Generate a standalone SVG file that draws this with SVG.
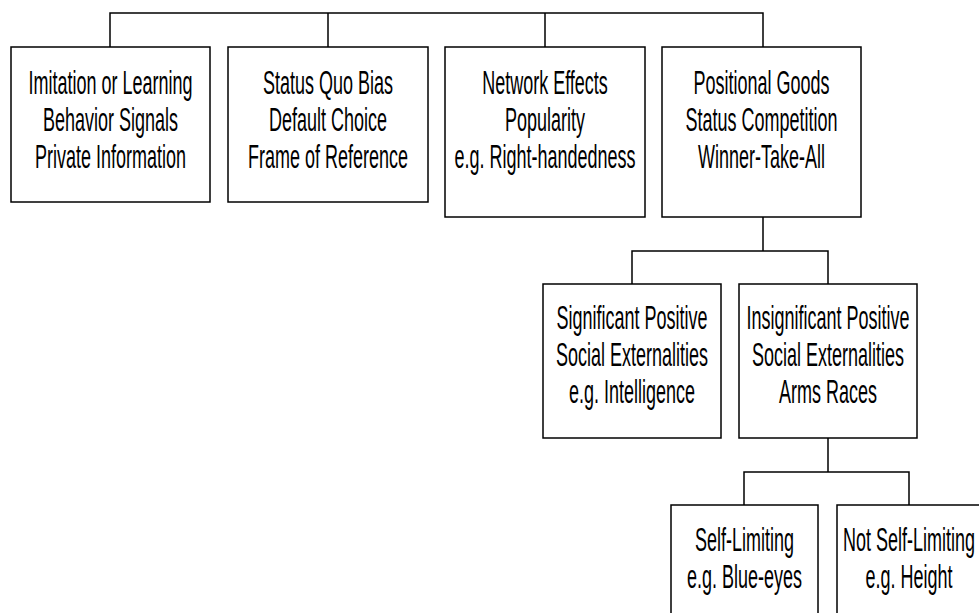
<svg xmlns="http://www.w3.org/2000/svg" width="979" height="613" viewBox="0 0 979 613">
<style>
.box{fill:#fff;stroke:#000;stroke-width:1.5}
.conn{fill:none;stroke:#000;stroke-width:1.5}
.t{font-family:"Liberation Sans",Arial,sans-serif;font-size:33px;fill:#000;text-anchor:middle}
</style>
<rect width="979" height="613" fill="#fff"/>
<g id="connectors">
<path class="conn" d="M110,47V13H763V47M328,13V47M545,13V47"/>
<path class="conn" d="M763,217V251M632,284V251H828V284"/>
<path class="conn" d="M828,438V472M744,505V472H909V505"/>
</g>
<g id="n1">
<rect class="box" x="11" y="47" width="199" height="155"/>
<g transform="translate(110.5,0) scale(0.545,1)"><text class="t" x="0" y="94">Imitation or Learning</text><text class="t" x="0" y="131">Behavior Signals</text><text class="t" x="0" y="168">Private Information</text></g>
</g>
<g id="n2">
<rect class="box" x="228" y="47" width="200" height="155"/>
<g transform="translate(328,0) scale(0.545,1)"><text class="t" x="0" y="94">Status Quo Bias</text><text class="t" x="0" y="131">Default Choice</text><text class="t" x="0" y="168">Frame of Reference</text></g>
</g>
<g id="n3">
<rect class="box" x="445" y="47" width="200" height="170"/>
<g transform="translate(545,0) scale(0.545,1)"><text class="t" x="0" y="94">Network Effects</text><text class="t" x="0" y="131">Popularity</text><text class="t" x="0" y="168">e.g. Right-handedness</text></g>
</g>
<g id="n4">
<rect class="box" x="662" y="47" width="199" height="170"/>
<g transform="translate(761.5,0) scale(0.545,1)"><text class="t" x="0" y="94">Positional Goods</text><text class="t" x="0" y="131">Status Competition</text><text class="t" x="0" y="168">Winner-Take-All</text></g>
</g>
<g id="n5">
<rect class="box" x="543" y="284" width="178" height="154"/>
<g transform="translate(632,0) scale(0.545,1)"><text class="t" x="0" y="329">Significant Positive</text><text class="t" x="0" y="366">Social Externalities</text><text class="t" x="0" y="403">e.g. Intelligence</text></g>
</g>
<g id="n6">
<rect class="box" x="739" y="284" width="178" height="154"/>
<g transform="translate(828,0) scale(0.545,1)"><text class="t" x="0" y="329">Insignificant Positive</text><text class="t" x="0" y="366">Social Externalities</text><text class="t" x="0" y="403">Arms Races</text></g>
</g>
<g id="n7">
<rect class="box" x="671" y="505" width="147" height="150"/>
<g transform="translate(744.5,0) scale(0.545,1)"><text class="t" x="0" y="551">Self-Limiting</text><text class="t" x="0" y="588">e.g. Blue-eyes</text></g>
</g>
<g id="n8">
<rect class="box" x="837" y="505" width="145" height="150"/>
<g transform="translate(909,0) scale(0.545,1)"><text class="t" x="0" y="551">Not Self-Limiting</text><text class="t" x="0" y="588">e.g. Height</text></g>
</g>
</svg>
